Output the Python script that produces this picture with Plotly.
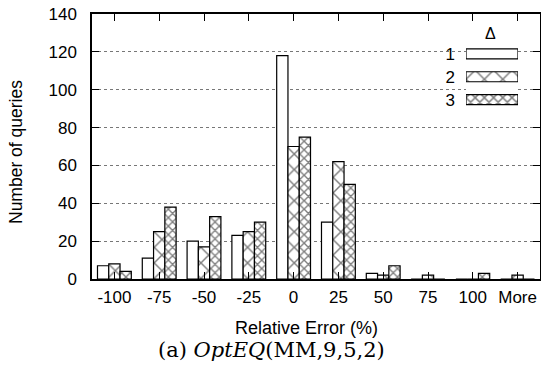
import plotly.graph_objects as go

categories = ["-100", "-75", "-50", "-25", "0", "25", "50", "75", "100", "More"]
delta1 = [7, 11, 20, 23, 118, 30, 3, 0, 0, 0]
delta2 = [8, 25, 17, 25, 70, 62, 2, 2, 0, 2]
delta3 = [4, 38, 33, 30, 75, 50, 7, 0, 3, 0]
series_names = ["1", "2", "3"]
y_ticks = [0, 20, 40, 60, 80, 100, 120, 140]

W, H = 541, 367
L, R, T, B = 92, 1, 14, 88
pw, ph = W - L - R, H - T - B

def px(x):
    return (x - L) / pw

def py(y):
    return (H - B - y) / ph

SANS = "Liberation Sans, Arial, Helvetica, sans-serif"
patterns = [
    dict(shape="", fgcolor="black", bgcolor="white"),
    dict(shape="x", size=11, solidity=0.25, fgcolor="black", bgcolor="white"),
    dict(shape="x", size=6, solidity=0.4, fgcolor="black", bgcolor="white"),
]

fig = go.Figure()
for name, vals, pat in zip(series_names, [delta1, delta2, delta3], patterns):
    fig.add_trace(go.Bar(
        x=categories, y=vals, name=name,
        marker=dict(color="white", line=dict(color="black", width=1.2), pattern=pat),
        showlegend=False, xaxis="x", yaxis="y",
    ))

# key drawn as a small inset bar chart (gnuplot style: label left, swatch right)
fig.add_trace(go.Bar(
    y=series_names, x=[1, 1, 1], orientation="h", width=0.44,
    marker=dict(
        color="white", line=dict(color="black", width=1.2),
        pattern=dict(shape=["", "x", "x"], size=[8, 13, 6.5],
                     solidity=[0.1, 0.22, 0.4], fgcolor="black", bgcolor="white"),
    ),
    showlegend=False, xaxis="x2", yaxis="y2", hoverinfo="skip",
))

def note(text, x, y, size=17, family=SANS, angle=0):
    return dict(text=text, x=x, y=y, xref="paper", yref="paper",
                xanchor="center", yanchor="middle", showarrow=False,
                textangle=angle, font=dict(size=size, family=family))

fig.update_layout(
    width=W, height=H,
    margin=dict(l=L, r=R, t=T, b=B, autoexpand=False),
    paper_bgcolor="white", plot_bgcolor="white",
    barmode="group", bargap=0.245, bargroupgap=0,
    font=dict(family=SANS, size=17, color="black"),
    xaxis=dict(
        type="category", categoryarray=categories, range=[-0.5, 9.5],
        showline=True, linecolor="black", linewidth=1.5, mirror="ticks",
        ticks="inside", ticklen=7, tickcolor="black", tickwidth=1.2,
        showgrid=False, zeroline=False, automargin=False,
        tickfont=dict(size=17, family=SANS), ticklabelstandoff=2,
    ),
    yaxis=dict(
        range=[0, 140], tickvals=y_ticks,
        showline=True, linecolor="black", linewidth=1.5, mirror="ticks",
        ticks="inside", ticklen=7, tickcolor="black", tickwidth=1.2,
        showgrid=True, gridcolor="#777777", griddash="dot", gridwidth=1,
        zeroline=False, automargin=False,
        tickfont=dict(size=17, family=SANS), ticklabelstandoff=10,
    ),
    xaxis2=dict(domain=[px(466), px(518)], anchor="y2", range=[0, 1],
                visible=False, fixedrange=True, automargin=False),
    yaxis2=dict(domain=[py(111), py(42.5)], anchor="x2", type="category",
                categoryarray=series_names, autorange="reversed",
                showline=False, ticks="", showgrid=False, zeroline=False,
                automargin=False,
                tickfont=dict(size=17, family=SANS), ticklabelstandoff=10),
    shapes=[dict(type="rect", xref="paper", yref="paper",
                 x0=px(441), x1=px(532), y0=py(112), y1=py(18),
                 fillcolor="white", line=dict(width=0), layer="between")],
    annotations=[
        note("Δ", px(490), py(33), size=16),
        note("Number of queries", px(16), py(152), size=17.5, angle=-90),
        note("Relative Error (%)", px(306), py(328), size=18),
        note("(a) <i>OptEQ</i>(MM,9,5,2)", px(271), py(350), size=21,
             family="DejaVu Serif, Liberation Serif, serif"),
    ],
)

fig.write_html(
    "out.html",
    config={"displayModeBar": False},
    post_script="document.documentElement.style.margin='0';"
                "document.body.style.margin='0';document.body.style.padding='0';",
)
